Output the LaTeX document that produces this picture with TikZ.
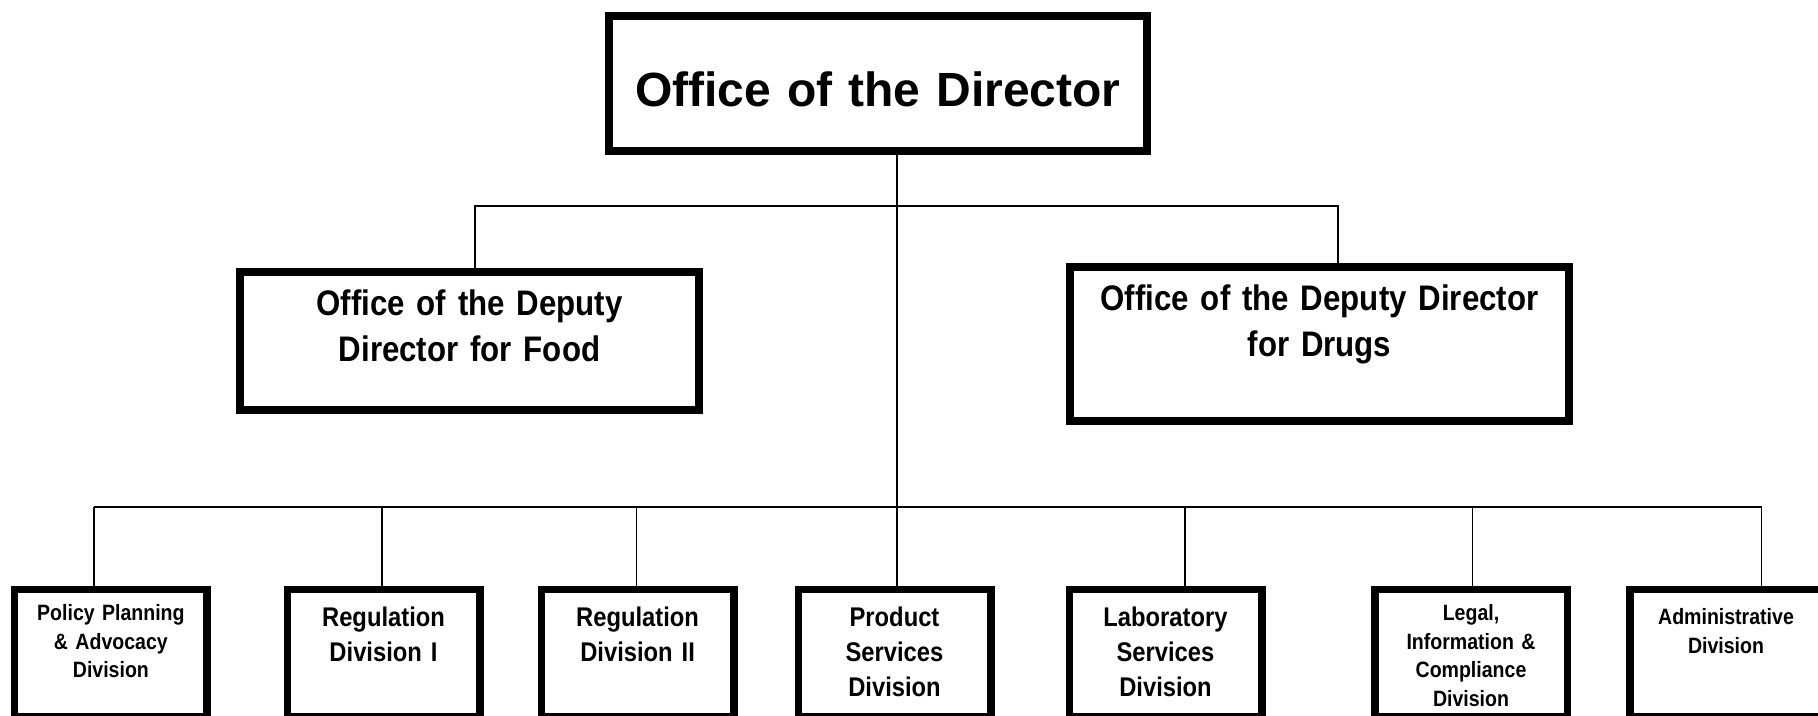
\documentclass[tikz,border=0pt]{standalone}
\usepackage{fontspec}
\setmainfont{Liberation Sans}
\newfontfamily\narrowsf{Liberation Sans}[FakeStretch=0.88]

\begin{document}
\begin{tikzpicture}[x=1pt,y=-1pt,
    orgbox/.style={draw,inner sep=0pt,align=center,anchor=north},
    headbox/.style={orgbox,line width=8pt,text width=538pt,text height=90.5pt,text depth=44.5pt,
        font=\bfseries\fontsize{48}{56}\selectfont},
    deputybox/.style={orgbox,line width=8pt,text height=43.5pt,
        font=\narrowsf\bfseries\fontsize{35.5}{46}\selectfont},
    divbox/.style={orgbox,line width=7.5pt,text width=192.5pt,text height=36.7pt,text depth=90.8pt,
        font=\narrowsf\bfseries\fontsize{27}{35}\selectfont},
    smalldiv/.style={divbox,text height=31pt,text depth=96.5pt,
        font=\narrowsf\bfseries\fontsize{22.2}{28.5}\selectfont},
    link/.style={line width=1.4pt}]
    \path[use as bounding box,fill=white] (0,0) rectangle (1818,715);

    % director and deputies
    \node[headbox] (dir) at (878,12) {Office of the Director};
    \node[deputybox,text width=459pt,text depth=94.5pt] (food) at (469.5,268)
        {Office of the Deputy\\Director for Food};
    \node[deputybox,text width=499pt,text depth=110.5pt] (drugs) at (1319.5,263)
        {Office of the Deputy Director\\for Drugs};

    % divisions
    \node[smalldiv] (policy) at (110.9,585.75) {Policy Planning\\\& Advocacy\\Division};
    \node[divbox] (regone) at (383.5,585.75) {Regulation\\Division I};
    \node[divbox] (regtwo) at (637.6,585.75) {Regulation\\Division II};
    \node[divbox] (prod) at (894.5,585.75) {Product\\Services\\Division};
    \node[divbox] (labsvc) at (1165.5,585.75) {Laboratory\\Services\\Division};
    \node[smalldiv] (legal) at (1471,585.75) {Legal,\\Information \&\\Compliance\\Division};
    \node[smalldiv,text height=35pt,text depth=92.5pt] (admin) at (1726,585.75)
        {Administrative\\Division};

    % connectors
    \coordinate (split) at ([xshift=19]dir.south |- 0,206);
    \draw[link] ([xshift=19]dir.south) -- ([xshift=19]dir.south |- prod.north);
    \draw[link] ([xshift=5.5]food.north) |- (split) -| ([xshift=18.5]drugs.north);
    \coordinate (busL) at ([xshift=-17]policy.north |- 0,507);
    \coordinate (busR) at ([xshift=35.7]admin.north |- 0,507);
    \draw[link] (busL) -- (busR);
    \foreach \n/\s in {policy/-17,regone/-1.5,regtwo/-1,labsvc/19.5,legal/1.7,admin/35.7}
        \draw[link] ([xshift=\s]\n.north) -- ([xshift=\s]\n.north |- busL);
\end{tikzpicture}
\end{document}
